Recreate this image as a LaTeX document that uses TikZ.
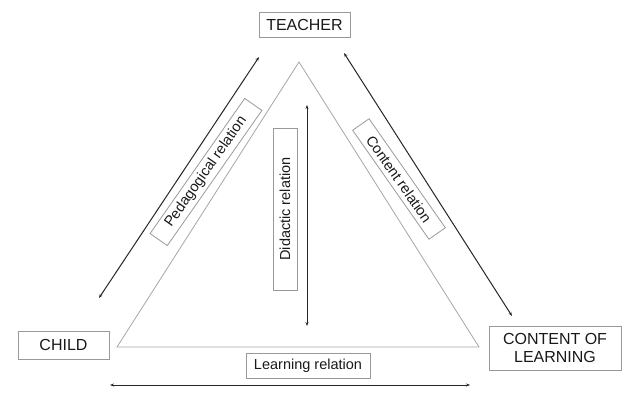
\documentclass[tikz,border=0pt]{standalone}
\usepackage{fontspec}
\setmainfont{Liberation Sans}
\usepackage{tikz}
\usetikzlibrary{positioning,arrows.meta}

\begin{document}
\begin{tikzpicture}[
      x=1pt, y=-1pt,
      >={Stealth[length=4pt,width=3pt]},
      party/.style={
        draw=gray!80,
        line width=0.8pt,
        text=black!90,
        inner sep=0pt,
        minimum height=25pt,
        align=center,
        font=\fontsize{16}{18}\selectfont
      },
      relation/.style={
        draw=gray!80,
        line width=0.8pt,
        text=black!90,
        inner sep=0pt,
        minimum height=21pt,
        font=\fontsize{14.5}{16}\selectfont
      },
      link/.style={
        <->,
        draw=black!85,
        line width=1pt
      }
    ]
    \useasboundingbox (0,0) rectangle (622,400);
    %% Parties
    \node[party, minimum width=91pt] (teacher) at (304.5,24.5) {TEACHER};
    \node[party, minimum width=91pt, minimum height=28pt] (child) at (63.5,345) {CHILD};
    \node[party, minimum width=132pt, minimum height=44pt] (content) at (555,348)
      {CONTENT OF\\LEARNING};
    %% Triangle
    \coordinate (t-top) at (299,62);
    \coordinate (t-left) at (117,347);
    \coordinate (t-right) at (479,347);
    \draw[gray!70, line width=0.8pt] (t-top) -- (t-left) -- (t-right) -- cycle;
    %% Arrow ends
    \coordinate (ped-a) at (259,57);
    \coordinate (ped-b) at (99,298);
    \coordinate (con-a) at (344,53);
    \coordinate (con-b) at (512,316);
    \coordinate (did-a) at (307,105);
    \coordinate (did-b) at (307,326);
    \coordinate (lea-a) at (110,385);
    \coordinate (lea-b) at (470,385);
    %% Relations
    \draw[link] (ped-a) -- (ped-b);
    \draw[link] (con-a) -- (con-b);
    \draw[link] (did-a) -- (did-b);
    \draw[link] (lea-a) -- (lea-b);
    %% Labels
    \node[relation, rotate=55, minimum width=165pt] (ped-label) at (206,172)
      {Pedagogical relation};
    \node[relation, rotate=-55, minimum width=133pt, minimum height=20pt] (con-label) at (399,179)
      {Content relation};
    \node[relation, rotate=90, minimum width=162pt, minimum height=24pt] (did-label) at (285,209)
      {Didactic relation};
    \node[relation, minimum width=124pt, minimum height=25pt] (lea-label) at (308,365.5)
      {Learning relation};
  \end{tikzpicture}
\end{document}
